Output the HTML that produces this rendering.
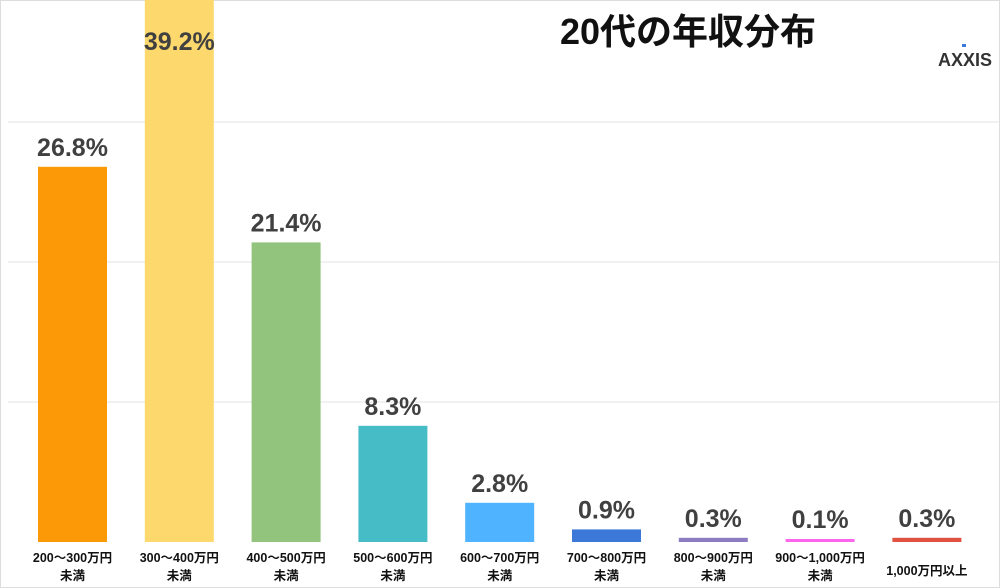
<!DOCTYPE html>
<html><head><meta charset="utf-8"><style>
body{margin:0;background:#fff}
svg{display:block;font-family:"Liberation Sans","Noto Sans CJK JP",sans-serif}
</style></head><body>
<svg id="chart" width="1000" height="588">
<rect x="0.5" y="0.5" width="999" height="587" fill="#fff" stroke="#ddd"/>
<g id="grid"></g>
<g id="bars"></g>
<text x="688" y="44" text-anchor="middle" font-size="36" font-weight="bold" fill="#111">20代の年収分布</text>
<text x="992" y="66" text-anchor="end" font-size="18" font-weight="bold" fill="#333">AXXIS</text>
<rect x="962" y="44" width="4" height="3" fill="#3c78d8"/>
</svg>
<script>
const categories=[["200〜300万円","未満"],["300〜400万円","未満"],["400〜500万円","未満"],["500〜600万円","未満"],["600〜700万円","未満"],["700〜800万円","未満"],["800〜900万円","未満"],["900〜1,000万円","未満"],["1,000万円以上",""]];
const values=[26.8,39.2,21.4,8.3,2.8,0.9,0.3,0.1,0.3];
const valueLabels=["26.8%","39.2%","21.4%","8.3%","2.8%","0.9%","0.3%","0.1%","0.3%"];
const gridTicks=[10,20,30];
const colors=["#fb9a06","#fdd86c","#93c47d","#46bdc6","#4fb3ff","#3c78d8","#8e7cc3","#ff66ee","#e0523f"];
const NS="http://www.w3.org/2000/svg";
const baseY=542, pxPer=14;
const y=v=>baseY-v*pxPer;
const x=i=>38+i*106.8;
const bw=69;
function mk(t,a,p,txt){const e=document.createElementNS(NS,t);for(const k in a)e.setAttribute(k,a[k]);if(txt!==undefined)e.textContent=txt;p.appendChild(e);return e;}
const grid=document.getElementById('grid');
gridTicks.forEach(t=>{
 const l=mk('line',{x1:8,x2:1000,y1:y(t),y2:y(t),stroke:'#e3e3e3','stroke-width':1},grid);
 
 
});
const bars=document.getElementById('bars');
values.forEach((v,i)=>{
 const h=Math.max(v*pxPer,3);
 const r=mk('rect',{x:x(i),y:baseY-h,width:bw,height:h,fill:colors[i]},bars);
 
 
 const ly=Math.max(baseY-h-11,50);
 const t=mk('text',{x:x(i)+bw/2,y:ly,'text-anchor':'middle','font-size':25,'font-weight':'bold',fill:'#404040'},bars,valueLabels[i]);
 
 
 const c=categories[i];
 const t1=mk('text',{x:x(i)+bw/2,y:c[1]?562:575,'text-anchor':'middle','font-size':12.5,'font-weight':'bold',fill:'#111'},bars,c[0]);
 
 
 if(c[1]){
  const t2=mk('text',{x:x(i)+bw/2,y:580,'text-anchor':'middle','font-size':12.5,'font-weight':'bold',fill:'#111'},bars,c[1]);
  
  
 }
});
</script>
</body></html>
